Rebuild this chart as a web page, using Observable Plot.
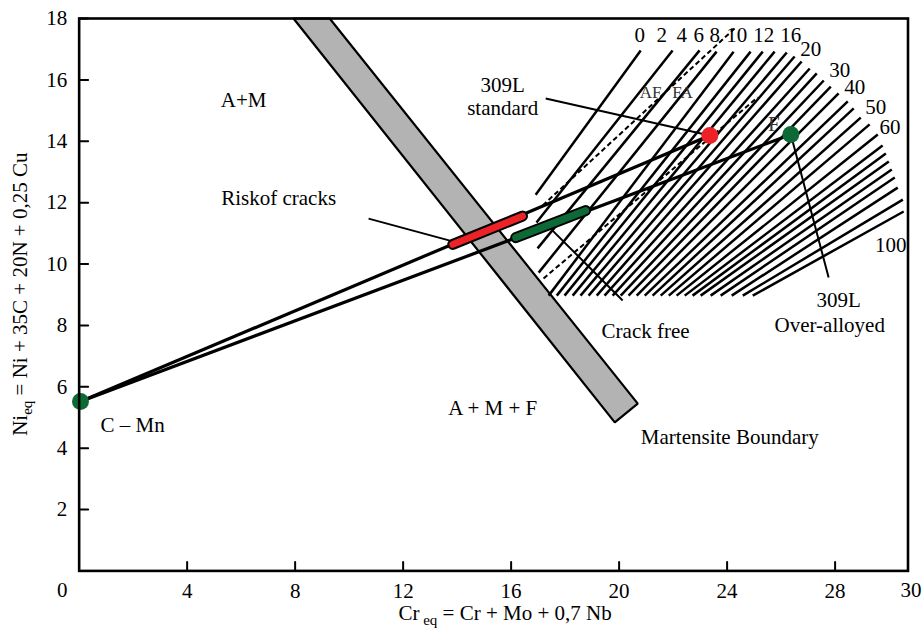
<!DOCTYPE html>
<html>
<head>
<meta charset="utf-8">
<script src="https://cdn.jsdelivr.net/npm/d3@7"></script>
<script src="https://cdn.jsdelivr.net/npm/@observablehq/plot@0.6"></script>
<style>
  body { margin: 0; background: #fff; }
  #chart svg { display: block; }
</style>
</head>
<body>
<div id="chart"></div>
<script>
// ---------- axes ----------
const xTicks = [4, 8, 12, 16, 20, 24, 28];
const yTicks = [2, 4, 6, 8, 10, 12, 14, 16, 18];
const xCornerVals = [0, 30.7];
const xCornerText = ["0", "30"];

// ---------- martensite boundary band ----------
const bandX = [7.94, 9.28, 20.69, 19.84, 7.94];
const bandY = [18, 18, 5.45, 4.84, 18];

// ---------- alloys ----------
const alloyX = [0.05, 23.36, 26.36];
const alloyY = [5.52, 14.19, 14.22];
const alloyColor = ["#0d6a37", "#ec2227", "#0d6a37"];

// dilution lines from C-Mn to each filler metal
const dilFrom = [0, 0];
const dilTo = [1, 2];

// dilution ranges (risk of cracks / crack free)
const segX1 = [13.84, 16.17];
const segY1 = [10.64, 10.86];
const segX2 = [16.42, 18.76];
const segY2 = [11.56, 11.74];
const segColor = ["#ec2227", "#0d6a37"];

// ---------- iso-ferrite-number lines ----------
const fanX1 = [16.91, 16.94, 16.98, 17.02, 17.39, 17.69, 17.98, 18.28, 18.57, 18.87, 19.17, 19.46, 19.76, 20.06, 20.35, 20.65, 20.95, 21.24, 21.54, 21.84, 22.13, 22.43, 22.72, 23.02, 23.39, 23.76, 24.17, 24.58, 24.95];
const fanY1 = [12.26, 11.35, 10.51, 9.72, 8.97, 8.97, 8.97, 8.97, 8.97, 8.97, 8.97, 8.97, 8.97, 8.97, 8.97, 8.97, 8.97, 8.97, 8.97, 8.97, 8.97, 8.97, 8.97, 8.97, 8.97, 8.97, 8.97, 8.97, 8.97];
const fanX2 = [20.80, 21.98, 22.98, 23.61, 24.24, 24.87, 25.32, 25.76, 26.21, 26.50, 26.76, 27.06, 27.32, 27.58, 27.84, 28.13, 28.47, 28.69, 28.95, 29.28, 29.58, 29.76, 29.88, 29.99, 30.10, 30.21, 30.32, 30.51, 30.54];
const fanY2 = [16.96, 16.96, 16.96, 16.92, 16.92, 16.92, 16.92, 16.92, 16.89, 16.76, 16.60, 16.37, 16.21, 15.98, 15.78, 15.56, 15.30, 15.07, 14.77, 14.55, 14.22, 13.86, 13.60, 13.34, 13.08, 12.82, 12.49, 12.10, 11.71];

// solidification-mode boundaries (dashed)
const dashX1 = [17.17, 17.20];
const dashY1 = [11.91, 9.53];
const dashX2 = [24.32, 25.13];
const dashY2 = [17.71, 15.43];

// FN labels
const fnText = ["0", "2", "4", "6", "8", "10", "12", "16", "20", "30", "40", "50", "60", "100"];
const fnX = [20.76, 21.58, 22.32, 22.95, 23.54, 24.36, 25.36, 26.36, 27.10, 28.17, 28.73, 29.51, 30.03, 30.06];
const fnY = [17.45, 17.45, 17.45, 17.45, 17.45, 17.45, 17.45, 17.45, 16.99, 16.31, 15.75, 15.10, 14.45, 10.60];

// ---------- leader lines ----------
const leadX1 = [10.72, 17.28, 17.50, 26.36];
const leadY1 = [11.48, 15.39, 11.12, 14.22];
const leadX2 = [13.87, 23.36, 20.13, 27.76];
const leadY2 = [10.73, 14.19, 8.81, 9.56];

// ---------- annotations ----------
const labelText = ["A+M", "Riskof cracks", "309L", "standard", "C \u2013 Mn", "A + M + F", "Crack free", "Martensite Boundary", "309L", "Over-alloyed"];
const labelX = [6.09, 7.39, 15.69, 15.69, 1.98, 15.32, 20.98, 24.10, 28.13, 27.80];
const labelY = [15.33, 12.13, 15.82, 15.07, 4.74, 5.29, 7.80, 4.35, 8.81, 8.00];

const modeText = ["AF", "FA"];
const modeX = [21.17, 22.35];
const modeY = [15.59, 15.59];
const fText = ["F"];
const fX = [25.73];
const fY = [14.55];

// ---------- plot ----------
const W = 923, H = 631;
const mL = 78.65, mR = 15.5, mT = 18, mB = 60.6;
const FONT = "'Liberation Serif', 'Times New Roman', serif";
const idx = n => d3.range(n);
const tickShape = { draw(context, l) { context.moveTo(0, 0); context.lineTo(0, -l); } };

const chart = Plot.plot({
  width: W,
  height: H,
  marginLeft: mL,
  marginRight: mR,
  marginTop: mT,
  marginBottom: mB,
  style: { fontFamily: FONT, fontSize: "21px", background: "#fff", overflow: "visible" },
  x: { domain: [0, 30.7], axis: null },
  y: { domain: [0, 18], axis: null },
  marks: [
    // martensite band
    Plot.line(idx(bandX.length), { x: i => bandX[i], y: i => bandY[i], fill: "#b3b3b3", stroke: "#000", strokeWidth: 2.2, strokeLinejoin: "miter" }),
    // iso-FN lines
    Plot.link(idx(fanX1.length), { x1: i => fanX1[i], y1: i => fanY1[i], x2: i => fanX2[i], y2: i => fanY2[i], stroke: "#000", strokeWidth: 2.5 }),
    // dashed boundaries
    Plot.link(idx(dashX1.length), { x1: i => dashX1[i], y1: i => dashY1[i], x2: i => dashX2[i], y2: i => dashY2[i], stroke: "#000", strokeWidth: 2, strokeDasharray: "5,3" }),
    // dilution lines
    Plot.link(idx(dilFrom.length), { x1: i => alloyX[dilFrom[i]], y1: i => alloyY[dilFrom[i]], x2: i => alloyX[dilTo[i]], y2: i => alloyY[dilTo[i]], stroke: "#000", strokeWidth: 3.2 }),
    // leader lines
    Plot.link(idx(leadX1.length), { x1: i => leadX1[i], y1: i => leadY1[i], x2: i => leadX2[i], y2: i => leadY2[i], stroke: "#000", strokeWidth: 2 }),
    // dilution ranges
    Plot.link(idx(segX1.length), { x1: i => segX1[i], y1: i => segY1[i], x2: i => segX2[i], y2: i => segY2[i], stroke: "#000", strokeWidth: 11, strokeLinecap: "round" }),
    Plot.link(idx(segX1.length), { x1: i => segX1[i], y1: i => segY1[i], x2: i => segX2[i], y2: i => segY2[i], stroke: i => segColor[i], strokeWidth: 7, strokeLinecap: "round" }),
    // alloy points
    Plot.dot(idx(alloyX.length), { x: i => alloyX[i], y: i => alloyY[i], r: 8.5, fill: i => alloyColor[i], stroke: "none" }),
    // annotations
    Plot.text(idx(labelText.length), { x: i => labelX[i], y: i => labelY[i], text: i => labelText[i], fontSize: 21, fontFamily: FONT, fill: "#000" }),
    Plot.text(idx(modeText.length), { x: i => modeX[i], y: i => modeY[i], text: i => modeText[i], fontSize: 17, fontFamily: FONT, fill: "#333" }),
    Plot.text(idx(fText.length), { x: i => fX[i], y: i => fY[i], text: i => fText[i], fontSize: 21, fontFamily: FONT, fill: "#333" }),
    Plot.text(idx(fnText.length), { x: i => fnX[i], y: i => fnY[i], text: i => fnText[i], fontSize: 21, fontFamily: FONT, fill: "#000" }),
    // inward ticks
    Plot.vector(xTicks, { x: d => d, y: 0, length: 9, rotate: 0, anchor: "start", shape: tickShape, stroke: "#000", strokeWidth: 2 }),
    Plot.vector(yTicks, { x: 0, y: d => d, length: 9, rotate: 90, anchor: "start", shape: tickShape, stroke: "#000", strokeWidth: 2 }),
    // tick labels
    Plot.axisX({ ticks: xTicks, tickSize: 0, tickPadding: 12, label: null, fontSize: 21, fontFamily: FONT }),
    Plot.axisY({ ticks: yTicks, tickSize: 0, tickPadding: 12, label: null, fontSize: 21, fontFamily: FONT }),
    Plot.text([0], { x: xCornerVals[0], y: 0, text: () => xCornerText[0], dx: -17, dy: 19, fontSize: 21, fontFamily: FONT }),
    Plot.text([0], { x: xCornerVals[1], y: 0, text: () => xCornerText[1], dx: 3, dy: 19, fontSize: 21, fontFamily: FONT }),
    Plot.frame({ stroke: "#000", strokeWidth: 2.6 })
  ]
});

document.getElementById("chart").appendChild(chart);

// axis titles with subscripts
const svg = d3.select(chart);
const cx = (mL + (W - mR)) / 2;
const cy = (mT + (H - mB)) / 2;

const xt = svg.append("text")
  .attr("x", cx + 12).attr("y", 620)
  .attr("text-anchor", "middle")
  .attr("font-family", FONT).attr("font-size", 21).attr("fill", "#000");
xt.append("tspan").text("Cr");
xt.append("tspan").attr("dy", 5).attr("font-size", 15).text(" eq");
xt.append("tspan").attr("dy", -5).text(" = Cr + Mo + 0,7 Nb");

const yt = svg.append("text")
  .attr("transform", `translate(27,${cy}) rotate(-90)`)
  .attr("text-anchor", "middle")
  .attr("font-family", FONT).attr("font-size", 21).attr("fill", "#000");
yt.append("tspan").text("Ni");
yt.append("tspan").attr("dy", 5).attr("font-size", 15).text("eq");
yt.append("tspan").attr("dy", -5).text(" = Ni + 35C + 20N + 0,25 Cu");
</script>
</body>
</html>
